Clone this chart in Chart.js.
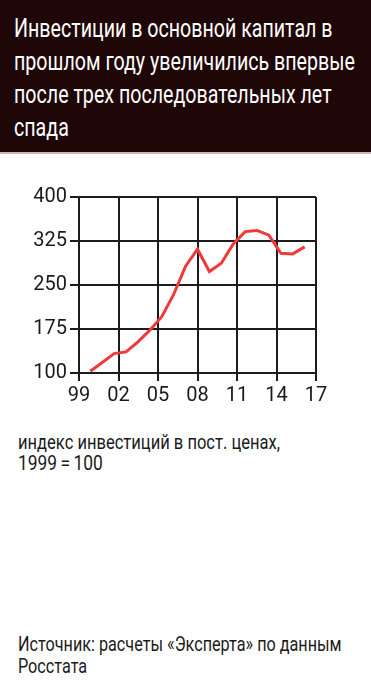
<!DOCTYPE html>
<html lang="ru">
<head>
<meta charset="utf-8">
<title>Инвестиции в основной капитал</title>
<script src="https://cdn.jsdelivr.net/npm/chart.js@4"></script>
<style>
  html, body { margin: 0; padding: 0; background: #fff; }
  body { width: 371px; height: 683px; position: relative; overflow: hidden;
         font-family: Roboto, 'Liberation Sans', sans-serif; color: #1a1a1a; }
  .head { position: absolute; left: 0; top: 0; width: 371px; height: 152px;
          background: #1f0707; border-bottom: 2px solid #cbb8b3; }
  .head .t { position: absolute; left: 14px; top: 12px; color: #fff;
             font-size: 25.5px; line-height: 33px; }
  .fit div { white-space: nowrap; transform-origin: 0 0; }
  .wrap { position: absolute; left: 0; top: 180px; width: 371px; height: 240px; }
  .note { position: absolute; left: 18px; top: 432px; font-size: 19.5px; line-height: 21.4px; }
  .note .eq { margin: 0 4px; }
  .note .big { font-size: 20.5px; }
  .src  { position: absolute; left: 18px; top: 634px; font-size: 20px; line-height: 21.6px; }
</style>
</head>
<body>
<div class="head">
  <div class="t fit" data-w="341">
    <div>Инвестиции в основной капитал в</div>
    <div>прошлом году увеличились впервые</div>
    <div>после трех последовательных лет</div>
    <div>спада</div>
  </div>
</div>
<div class="wrap"><canvas id="chart"></canvas></div>
<div class="note fit" data-w="262">
  <div>индекс инвестиций в пост. ценах,</div>
  <div class="big">1999<span class="eq">=</span>100</div>
</div>
<div class="src fit" data-w="324">
  <div>Источник: расчеты «Эксперта» по данным</div>
  <div>Росстата</div>
</div>

<script>
// ── data ───────────────────────────────────────────
const years  = [1999, 2000, 2001, 2002, 2003, 2004, 2005, 2006, 2007, 2008,
                2009, 2010, 2011, 2012, 2013, 2014, 2015, 2016, 2017];
const index  = [103, 118, 133, 136, 153, 173, 196, 234, 282, 311,
                273, 287, 320, 341, 343, 335, 304, 303, 315];
const xTicks = [1999, 2002, 2005, 2008, 2011, 2014, 2017];
const yTicks = [100, 175, 250, 325, 400];

const FONT = "Roboto, 'Liberation Sans', sans-serif";
const GRID = '#1c1c1c';

// ── squeeze text blocks to the narrow face of the original ──
document.querySelectorAll('.fit').forEach(box => {
  const lines = [...box.children];
  const widest = Math.max(...lines.map(l => l.scrollWidth));
  const k = (+box.dataset.w) / widest;
  lines.forEach(l => { l.style.transform = 'scaleX(' + k + ')'; });
});

new Chart(document.getElementById('chart'), {
  type: 'line',
  data: {
    datasets: [{
      data: years.map((y, i) => ({ x: y, y: index[i] })),
      xAxisID: 'xd',
      borderColor: '#ef3a3a',
      borderWidth: 3,
      pointRadius: 0,
      tension: 0,
    }],
  },
  options: {
    responsive: true,
    maintainAspectRatio: false,
    animation: false,
    layout: { padding: { top: 17, right: 55, left: 0, bottom: 0 } },
    plugins: { legend: { display: false }, tooltip: { enabled: false } },
    scales: {
      // hidden axis that places the line the way the original did
      xd: {
        type: 'linear', display: false, min: 1998.05, max: 2017.95,
      },
      x: {
        type: 'linear', min: 1999, max: 2017,
        afterBuildTicks: s => { s.ticks = xTicks.map(v => ({ value: v })); },
        afterFit: s => { s.height = 47; },
        ticks: {
          color: '#1a1a1a', padding: 3, maxRotation: 0, autoSkip: false,
          font: { family: FONT, size: 20 },
          callback: v => String(v).slice(2),
        },
        grid: { color: GRID, lineWidth: 2, tickLength: 8 },
        border: { color: GRID, width: 2 },
      },
      y: {
        min: 100, max: 400,
        afterBuildTicks: s => { s.ticks = yTicks.map(v => ({ value: v })); },
        afterFit: s => { s.width = 79; },
        ticks: {
          color: '#1a1a1a', padding: 3,
          font: { family: FONT, size: 20 },
        },
        grid: { color: GRID, lineWidth: 2, tickLength: 9 },
        border: { color: GRID, width: 2 },
      },
    },
  },
});
</script>
</body>
</html>
